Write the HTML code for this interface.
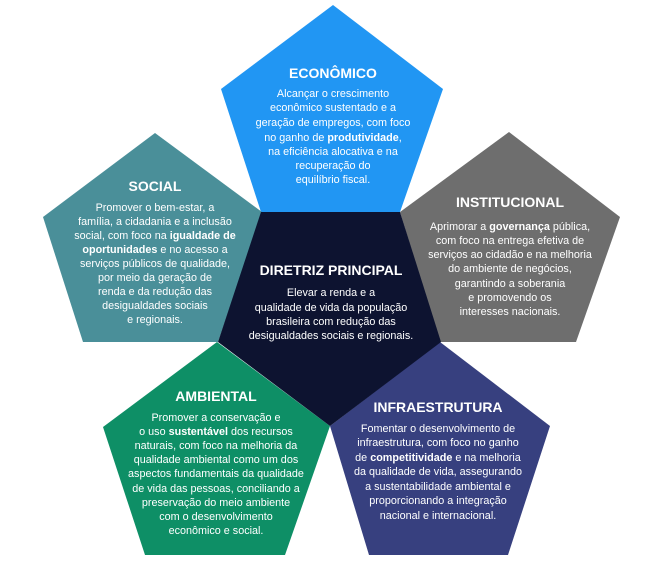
<!DOCTYPE html>
<html><head><meta charset="utf-8"><style>
html,body{margin:0;padding:0;background:#fff;width:663px;height:562px;overflow:hidden}
svg{display:block}
text{font-family:"Liberation Sans",sans-serif;fill:#fff;text-anchor:middle}
.t{font-size:14px;font-weight:bold}
.b{font-size:10.8px}
.s{font-weight:bold}
</style></head><body>
<svg width="663" height="562" viewBox="0 0 663 562" xmlns="http://www.w3.org/2000/svg">
<polygon points="333,5 443,89 400,212 261,212 221,89" fill="#2196F3"/>
<polygon points="155,133 262,212 218,342 83,342 43,217" fill="#4A8F99"/>
<polygon points="509,132 620,217 576,342 440,342 400,212" fill="#6E6E6E"/>
<polygon points="217,342 330,426 285,555 145,555 103,427" fill="#0E8F66"/>
<polygon points="440,342 550,426 508,555 369,555 330,426" fill="#37407F"/>
<polygon points="261,212 400,212 441,342 330,426 218,342" fill="#0D1330"/>

<text class="t" x="333" y="78">ECONÔMICO</text>
<text class="b" x="333" y="97">Alcançar o crescimento</text>
<text class="b" x="333" y="111">econômico sustentado e a</text>
<text class="b" x="333" y="126">geração de empregos, com foco</text>
<text class="b" x="333" y="141">no ganho de <tspan class="s">produtividade</tspan>,</text>
<text class="b" x="333" y="155">na eficiência alocativa e na</text>
<text class="b" x="333" y="169">recuperação do</text>
<text class="b" x="333" y="183">equilíbrio fiscal.</text>

<text class="t" x="155" y="191">SOCIAL</text>
<text class="b" x="155" y="211">Promover o bem-estar, a</text>
<text class="b" x="155" y="225">família, a cidadania e a inclusão</text>
<text class="b" x="155" y="239">social, com foco na <tspan class="s">igualdade de</tspan></text>
<text class="b" x="155" y="253"><tspan class="s">oportunidades</tspan> e no acesso a</text>
<text class="b" x="155" y="267">serviços públicos de qualidade,</text>
<text class="b" x="155" y="281">por meio da geração de</text>
<text class="b" x="155" y="295">renda e da redução das</text>
<text class="b" x="155" y="309">desigualdades sociais</text>
<text class="b" x="155" y="323">e regionais.</text>

<text class="t" x="331" y="275">DIRETRIZ PRINCIPAL</text>
<text class="b" x="331" y="296">Elevar a renda e a</text>
<text class="b" x="331" y="311">qualidade de vida da população</text>
<text class="b" x="331" y="325">brasileira com redução das</text>
<text class="b" x="331" y="339">desigualdades sociais e regionais.</text>

<text class="t" x="510" y="207">INSTITUCIONAL</text>
<text class="b" x="510" y="230">Aprimorar a <tspan class="s">governança</tspan> pública,</text>
<text class="b" x="510" y="244">com foco na entrega efetiva de</text>
<text class="b" x="510" y="258">serviços ao cidadão e na melhoria</text>
<text class="b" x="510" y="272">do ambiente de negócios,</text>
<text class="b" x="510" y="287">garantindo a soberania</text>
<text class="b" x="510" y="301">e promovendo os</text>
<text class="b" x="510" y="315">interesses nacionais.</text>

<text class="t" x="438" y="412">INFRAESTRUTURA</text>
<text class="b" x="438" y="432">Fomentar o desenvolvimento de</text>
<text class="b" x="438" y="446">infraestrutura, com foco no ganho</text>
<text class="b" x="438" y="461">de <tspan class="s">competitividade</tspan> e na melhoria</text>
<text class="b" x="438" y="475">da qualidade de vida, assegurando</text>
<text class="b" x="438" y="490">a sustentabilidade ambiental e</text>
<text class="b" x="438" y="504">proporcionando a integração</text>
<text class="b" x="438" y="519">nacional e internacional.</text>

<text class="t" x="216" y="401">AMBIENTAL</text>
<text class="b" x="216" y="421">Promover a conservação e</text>
<text class="b" x="216" y="435">o uso <tspan class="s">sustentável</tspan> dos recursos</text>
<text class="b" x="216" y="449">naturais, com foco na melhoria da</text>
<text class="b" x="216" y="463">qualidade ambiental como um dos</text>
<text class="b" x="216" y="477">aspectos fundamentais da qualidade</text>
<text class="b" x="216" y="492">de vida das pessoas, conciliando a</text>
<text class="b" x="216" y="506">preservação do meio ambiente</text>
<text class="b" x="216" y="520">com o desenvolvimento</text>
<text class="b" x="216" y="534">econômico e social.</text>
</svg>
</body></html>
